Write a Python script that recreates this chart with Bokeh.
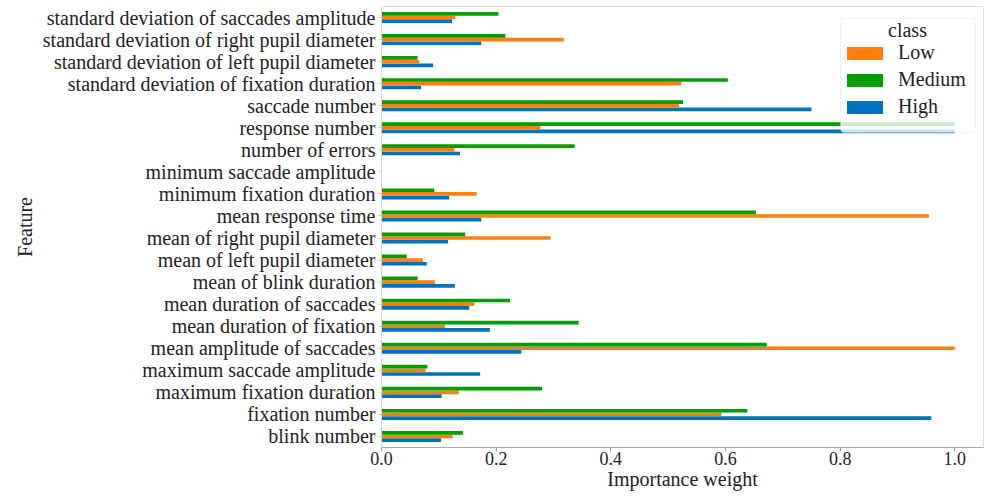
from bokeh.plotting import figure
from bokeh.models import (FactorRange, Range1d, FixedTicker, NumeralTickFormatter,
                          Legend, LegendItem, ColumnDataSource, BoxAnnotation, Label)
from bokeh.transform import dodge
from bokeh.embed import file_html
from bokeh.resources import INLINE

features = [
    "blink number", "fixation number", "maximum fixation duration",
    "maximum saccade amplitude", "mean amplitude of saccades",
    "mean duration of fixation", "mean duration of saccades",
    "mean of blink duration", "mean of left pupil diameter",
    "mean of right pupil diameter", "mean response time",
    "minimum fixation duration", "minimum saccade amplitude",
    "number of errors", "response number", "saccade number",
    "standard deviation of fixation duration",
    "standard deviation of left pupil diameter",
    "standard deviation of right pupil diameter",
    "standard deviation of saccades amplitude",
]
high = [0.104, 0.959, 0.105, 0.172, 0.244, 0.189, 0.153, 0.128, 0.079, 0.116,
        0.174, 0.118, 0.0, 0.137, 1.0, 0.750, 0.069, 0.090, 0.174, 0.123]
low = [0.124, 0.593, 0.135, 0.077, 1.0, 0.111, 0.162, 0.093, 0.072, 0.295,
       0.955, 0.166, 0.0, 0.127, 0.277, 0.519, 0.523, 0.066, 0.318, 0.129]
medium = [0.142, 0.638, 0.280, 0.080, 0.672, 0.344, 0.224, 0.063, 0.044, 0.146,
          0.653, 0.092, 0.0, 0.337, 1.0, 0.526, 0.604, 0.063, 0.216, 0.204]
x_ticks = [0.0, 0.2, 0.4, 0.6, 0.8, 1.0]
legend_title = "class"

FONT = "Liberation Serif"
C_LOW, C_MED, C_HIGH = "#ff7f0e", "#009e00", "#0072bd"

src = ColumnDataSource(dict(feature=features, high=high, low=low, medium=medium))

p = figure(width=984, height=492, y_range=FactorRange(*features, range_padding=0),
           x_range=Range1d(0, 1.05), output_backend="svg", toolbar_location=None,
           min_border_left=381, min_border_right=1, min_border_top=6,
           min_border_bottom=41)

bw = 0.5 / 3
r_high = p.hbar(y=dodge("feature", -bw, range=p.y_range), right="high", left=0,
                height=bw, source=src, color=C_HIGH, line_color=None)
r_low = p.hbar(y=dodge("feature", 0, range=p.y_range), right="low", left=0,
               height=bw, source=src, color=C_LOW, line_color=None)
r_med = p.hbar(y=dodge("feature", bw, range=p.y_range), right="medium", left=0,
               height=bw, source=src, color=C_MED, line_color=None)

p.xgrid.visible = False
p.ygrid.visible = False
p.outline_line_color = "#dddddd"

xa = p.xaxis[0]
xa.ticker = FixedTicker(ticks=x_ticks)
xa.formatter = NumeralTickFormatter(format="0.0")
xa.minor_tick_line_color = None
xa.major_tick_out = 4
xa.major_tick_in = 0
xa.major_tick_line_color = "#999999"
xa.axis_line_color = "#aaaaaa"
xa.major_label_text_font = FONT
xa.major_label_text_font_size = "18px"
xa.major_label_text_color = "#222222"
xa.major_label_standoff = 0
xa.axis_label = "Importance weight"
xa.axis_label_text_font = FONT
xa.axis_label_text_font_size = "20px"
xa.axis_label_text_font_style = "normal"
xa.axis_label_text_color = "#222222"
xa.axis_label_standoff = 0

ya = p.yaxis[0]
ya.major_tick_out = 3
ya.major_tick_in = 0
ya.major_tick_line_color = "#cccccc"
ya.axis_line_color = "#d5d5d5"
ya.major_label_text_font = FONT
ya.major_label_text_font_size = "20px"
ya.major_label_text_color = "#222222"
ya.major_label_standoff = 3
ya.axis_label = "Feature"
ya.axis_label_text_font = FONT
ya.axis_label_text_font_size = "20px"
ya.axis_label_text_font_style = "normal"
ya.axis_label_text_color = "#222222"
ya.axis_label_standoff = 4

# legend frame, drawn separately so that the title can be centred
# (screen units are measured from the frame's bottom-left corner)
box = BoxAnnotation(left=459, right=594, top=429, bottom=315,
                    left_units="screen", right_units="screen",
                    top_units="screen", bottom_units="screen",
                    fill_color="white", fill_alpha=0.8,
                    line_color="#cccccc", line_width=1, border_radius=4)
p.add_layout(box)
p.add_layout(Label(x=526, y=418, x_units="screen", y_units="screen",
                   text=legend_title, text_align="center", text_baseline="middle",
                   text_font=FONT, text_font_size="20px", text_color="#222222"))

legend = Legend(items=[LegendItem(label="Low", renderers=[r_low]),
                       LegendItem(label="Medium", renderers=[r_med]),
                       LegendItem(label="High", renderers=[r_high])],
                location=(461, 329),
                label_text_font=FONT, label_text_font_size="20px",
                label_text_color="#222222",
                glyph_width=45, glyph_height=16, label_standoff=11,
                label_height=20, spacing=4, padding=0, margin=0,
                border_line_color=None, background_fill_alpha=0)
p.add_layout(legend)

open("out.html", "w").write(file_html(p, INLINE))
